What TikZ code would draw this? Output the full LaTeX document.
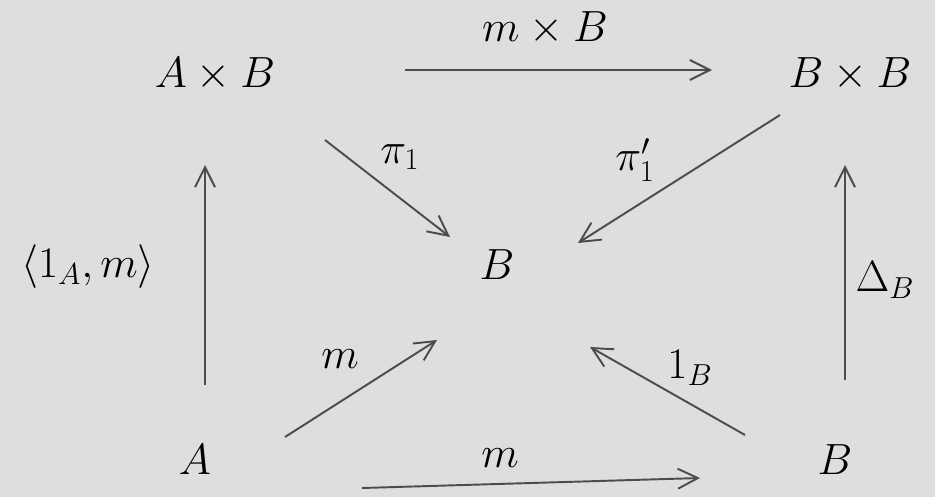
\documentclass[tikz,border=0pt]{standalone}
\usepackage{amsmath}
\usetikzlibrary{arrows.meta}
\tikzset{
  obj/.style={inner sep=0pt, font=\fontsize{31}{36}\selectfont},
  lab/.style={inner sep=0pt, font=\fontsize{23}{27}\selectfont},
  mor/.style={-{Straight Barb[length=4mm,width=4mm]}, line width=1.1pt, draw=black!70},
}
\begin{document}
\begin{tikzpicture}[x=0.02cm, y=-0.02cm]
  \fill[black!13] (0,0) rectangle (935,497);
  \useasboundingbox (0,0) rectangle (935,497);

  % objects
  \node[obj] (AB) at (215,74) {$A\times B$};
  \node[obj] (BB) at (850,74) {$B\times B$};
  \node[obj] (B)  at (497,265) {$B$};
  \node[obj] (A)  at (195,460) {$A$};
  \node[obj] (Bb) at (835,460) {$B$};

  % morphisms
  \draw[mor] ([shift={(190,-4)}]AB.center) -- ([shift={(-138,-4)}]BB.center);
  \draw[mor] ([shift={(167,28)}]A.center) -- ([shift={(-135,18)}]Bb.center);
  \draw[mor] ([shift={(10,-75)}]A.center) -- ([shift={(-10,91)}]AB.center);
  \draw[mor] ([shift={(10,-80)}]Bb.center) -- ([shift={(-5,91)}]BB.center);
  \draw[mor] ([shift={(110,66)}]AB.center) -- ([shift={(-47,-28)}]B.center);
  \draw[mor] ([shift={(-70,41)}]BB.center) -- ([shift={(81,-22)}]B.center);
  \draw[mor] ([shift={(90,-23)}]A.center) -- ([shift={(-60,75)}]B.center);
  \draw[mor] ([shift={(-90,-25)}]Bb.center) -- ([shift={(93,82)}]B.center);

  % labels
  \node[lab] (lmB)  at (545,28)  {$m\times B$};
  \node[lab] (lpi)  at (400,157) {$\pi_1$};
  \node[lab] (lpi2) at (635,160) {$\pi_1'$};
  \node[lab] (lpair) at (88,267) {$\langle 1_A,m\rangle$};
  \node[lab] (lDel) at (885,280) {$\Delta_B$};
  \node[lab] (lm1)  at (340,359) {$m$};
  \node[lab] (l1B)  at (690,368) {$1_B$};
  \node[lab] (lm2)  at (500,458) {$m$};
\end{tikzpicture}
\end{document}
